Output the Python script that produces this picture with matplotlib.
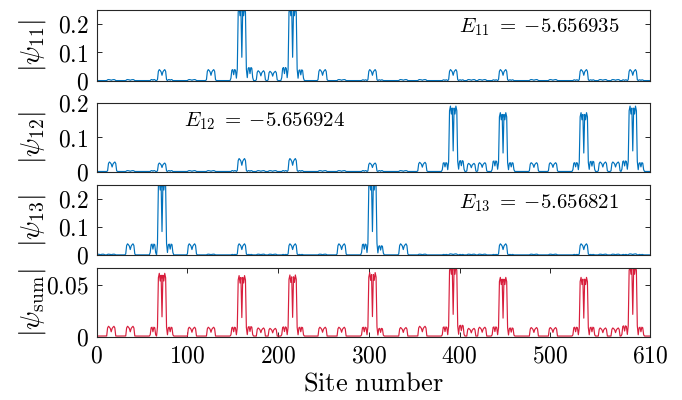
import numpy as np
import matplotlib
matplotlib.use('Agg')
import matplotlib.pyplot as plt

plt.rcParams['mathtext.fontset'] = 'cm'
plt.rcParams['font.family'] = 'serif'
plt.rcParams['font.serif'] = ['cmr10', 'DejaVu Serif']
plt.rcParams['axes.formatter.use_mathtext'] = True

N_SITES = 610

# relative bump profiles
PROFILE_M = [0.12, 0.85, 1.0, 0.92, 0.8, 0.5, 0.8, 0.92, 1.0, 0.85, 0.12]
PROFILE_BIG = [0.16, 0.93, 1.0, 0.88, 0.97, 0.32, 0.97, 0.88, 1.0, 0.93, 0.16]
PROFILE_SHOULDER = [0.25, 0.95, 1.0, 0.55, 1.0, 0.95, 0.25]

shoulder_sites = [62, 81, 151, 169, 207, 225, 295, 313, 384, 402, 439, 457, 528, 546, 582, 600]

# ---- psi_11 ----
psi11_base = 0.0015
psi11_m_sites = [16, 37, 72, 105, 126, 181, 194, 249, 270, 304, 338, 359, 393, 413, 425, 448, 482, 503, 537, 558, 572, 591]
psi11_m_vals = [0.005, 0.005, 0.040, 0.005, 0.040, 0.036, 0.034, 0.040, 0.005, 0.040, 0.005, 0.005,
                0.040, 0.005, 0.005, 0.040, 0.005, 0.005, 0.040, 0.005, 0.005, 0.040]
psi11_s_vals = [0.005, 0.005, 0.040, 0.047, 0.047, 0.039, 0.004, 0.004, 0.004, 0.004, 0.004, 0.004,
                0.004, 0.004, 0.004, 0.004]
psi11_b_sites = [160, 216]
psi11_b_vals = [0.26, 0.26]

# ---- psi_12 ----
psi12_base = 0.0015
psi12_m_sites = [17, 37, 72, 105, 126, 160, 181, 194, 216, 249, 270, 304, 338, 359, 413, 425, 482, 503, 558, 572]
psi12_m_vals = [0.029, 0.004, 0.026, 0.004, 0.004, 0.039, 0.004, 0.004, 0.039, 0.004, 0.004, 0.026,
                0.004, 0.028, 0.025, 0.027, 0.027, 0.027, 0.029, 0.029]
psi12_s_vals = [0.004, 0.004, 0.004, 0.004, 0.004, 0.004, 0.004, 0.004, 0.027, 0.033, 0.032, 0.027,
                0.027, 0.031, 0.032, 0.027]
psi12_b_sites = [393, 448, 537, 591]
psi12_b_vals = [0.191, 0.172, 0.172, 0.191]

# ---- psi_13 ----
psi13_base = 0.0015
psi13_m_sites = [4, 16, 37, 105, 126, 160, 181, 194, 216, 249, 270, 338, 359, 393, 413, 425, 448, 482, 503, 537, 558, 572, 591]
psi13_m_vals = [0.004, 0.004, 0.041, 0.041, 0.004, 0.041, 0.004, 0.004, 0.041, 0.004, 0.041, 0.041,
                0.004, 0.005, 0.004, 0.004, 0.041, 0.004, 0.004, 0.041, 0.004, 0.004, 0.005]
psi13_s_vals = [0.040, 0.040, 0.003, 0.003, 0.003, 0.003, 0.040, 0.034, 0.003, 0.003, 0.003, 0.003,
                0.003, 0.003, 0.003, 0.003]
psi13_b_sites = [72, 304]
psi13_b_vals = [0.265, 0.265]

# ---- psi_sum ----
psis_base = 0.0012
psis_m_sites = [16, 37, 105, 126, 181, 194, 249, 270, 338, 359, 413, 425, 482, 503, 558, 572]
psis_m_vals = [0.0106, 0.0106, 0.0097, 0.0097, 0.0090, 0.0086, 0.0097, 0.0097, 0.0094, 0.0106,
               0.0086, 0.0097, 0.0094, 0.0094, 0.0090, 0.0090]
psis_s_vals = [0.0097, 0.0097, 0.0097, 0.0103, 0.0100, 0.0097, 0.0097, 0.0086, 0.0100, 0.0116,
               0.0100, 0.0090, 0.0097, 0.0097, 0.0110, 0.0097]
psis_b_sites = [72, 160, 216, 304, 393, 448, 537, 591]
psis_b_vals = [0.0616, 0.0594, 0.0600, 0.0623, 0.0690, 0.0577, 0.0577, 0.0690]

energies = ['-5.656935', '-5.656924', '-5.656821']
x_ticks = [0, 100, 200, 300, 400, 500, 610]


def build(base, m_sites, m_vals, s_vals, b_sites, b_vals):
    y = np.full(N_SITES, base)
    groups = ((PROFILE_M, m_sites, m_vals),
              (PROFILE_SHOULDER, shoulder_sites, s_vals),
              (PROFILE_BIG, b_sites, b_vals))
    for prof, sites, vals in groups:
        half = len(prof) // 2
        for c, h in zip(sites, vals):
            for k, r in enumerate(prof):
                i = c - 1 - half + k
                if 0 <= i < N_SITES:
                    y[i] = max(y[i], h * r)
    return y


sites = np.arange(1, N_SITES + 1)
series = [
    build(psi11_base, psi11_m_sites, psi11_m_vals, psi11_s_vals, psi11_b_sites, psi11_b_vals),
    build(psi12_base, psi12_m_sites, psi12_m_vals, psi12_s_vals, psi12_b_sites, psi12_b_vals),
    build(psi13_base, psi13_m_sites, psi13_m_vals, psi13_s_vals, psi13_b_sites, psi13_b_vals),
    build(psis_base, psis_m_sites, psis_m_vals, psis_s_vals, psis_b_sites, psis_b_vals),
]

BLUE = '#0072BD'
RED = '#D81E3C'
colors = [BLUE, BLUE, BLUE, RED]
ylims = [0.25, 0.2, 0.25, 0.067]
yticks = [[0, 0.1, 0.2], [0, 0.1, 0.2], [0, 0.1, 0.2], [0, 0.05]]
ytlabels = [['$0$', '$0.1$', '$0.2$'], ['$0$', '$0.1$', '$0.2$'], ['$0$', '$0.1$', '$0.2$'], ['$0$', '$0.05$']]
ylabels = [r'$|\psi_{11}|$', r'$|\psi_{12}|$', r'$|\psi_{13}|$', r'$|\psi_{\mathrm{sum}}|$']

W, H = 682, 400
left_px, right_px = 96.7, 650.0
panels_px = [(9.7, 81.0), (103.0, 172.0), (185.3, 255.3), (267.7, 337.3)]
e_pos = [(0.655, 0.76), (0.158, 0.74), (0.655, 0.75)]

fig = plt.figure(figsize=(W / 100, H / 100), dpi=100)
spine_col = '#262626'
for k in range(4):
    top, bot = panels_px[k]
    ax = fig.add_axes([left_px / W, 1 - bot / H, (right_px - left_px) / W, (bot - top) / H])
    ax.plot(sites, series[k], color=colors[k], lw=0.85)
    ax.set_xlim(0, 610)
    ax.set_ylim(0, ylims[k])
    ax.set_yticks(yticks[k])
    ax.set_yticklabels(ytlabels[k])
    for s in ax.spines.values():
        s.set_color(spine_col)
        s.set_linewidth(0.8)
    ax.tick_params(axis='y', direction='in', length=3.5, width=0.7, left=True, right=True,
                   labelsize=17, pad=6, colors=spine_col, labelcolor='black')
    if k < 3:
        ax.set_xticks([])
        ax.text(e_pos[k][0], e_pos[k][1], r'$E_{1%d}\;=\;{-%s}$' % (k + 1, energies[k][1:]),
                transform=ax.transAxes, ha='left', va='center', fontsize=15)
    else:
        ax.set_xticks(x_ticks)
        ax.set_xticklabels(['$%d$' % t for t in x_ticks])
        ax.tick_params(axis='x', direction='in', length=3.5, width=0.7, top=True, bottom=True,
                       labelsize=17, pad=6, colors=spine_col, labelcolor='black')
        ax.set_xlabel(r'$\mathrm{Site\ number}$', fontsize=19, labelpad=3)
    yc = 1 - (top + bot) / 2 / H
    fig.text(33 / W, yc, ylabels[k], rotation=90, ha='center', va='center', fontsize=20)

fig.savefig('out.png', dpi=100)
